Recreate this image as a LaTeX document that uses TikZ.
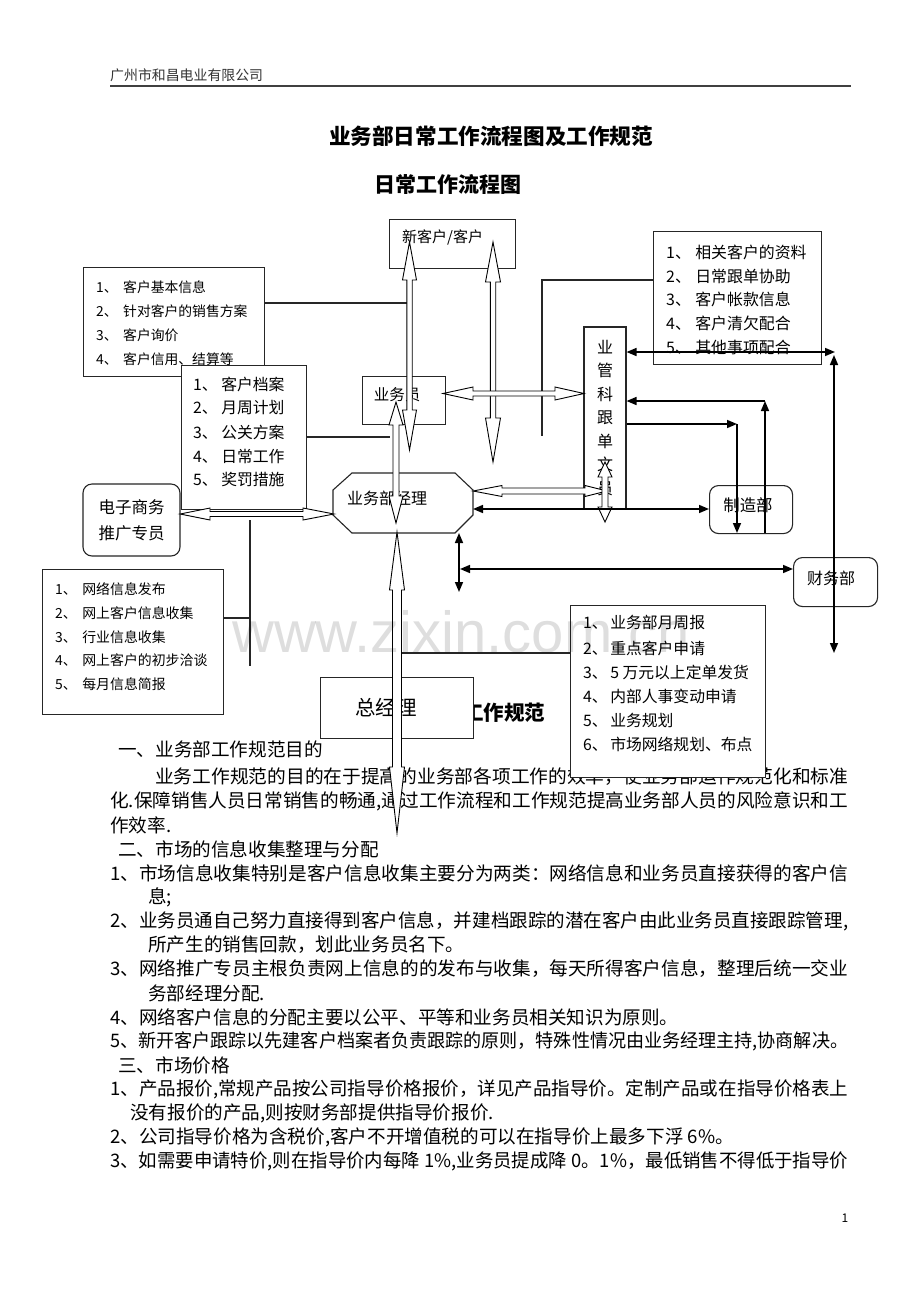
\documentclass[tikz,border=0pt]{standalone}
\usepackage{fontspec}
\setmainfont{Noto Sans CJK SC}
\newfontfamily\wmfont{Liberation Sans}
\usepackage{graphicx}
\usetikzlibrary{arrows.meta,calc}
\newsavebox\lnbox
\newlength\lnw
\newcommand\fsz[2]{\fontsize{#1}{#2}\selectfont}
% justified body line: name, x, y, text
\newcommand\jline[4]{\node[anchor=west,inner sep=0] (#1) at (#2,#3) {\sbox\lnbox{#4}\setlength\lnw{\wd\lnbox}\pgfmathsetmacro\lnfac{(848-#2)/\lnw}\scalebox{\lnfac}[1]{\usebox\lnbox}};}
\newcommand\bline[4]{\node[anchor=west,inner sep=0] (#1) at (#2,#3) {#4};}
\newcommand\litem[4]{\node[anchor=west,inner sep=0] (#1) at (#2,#3) {#4};}
% hollow double arrow: from, to, half shaft, head half width, head length at from, head length at to
\newcommand\harr[6]{\draw[hollow] let \p1=(#1), \p2=(#2), \n1={atan2(\y2-\y1,\x2-\x1)} in
 (\p1) -- ($(\p1)+(\n1:#5pt)+(\n1+90:#4pt)$) -- ($(\p1)+(\n1:#5pt)+(\n1+90:#3pt)$)
 -- ($(\p2)+(\n1+180:#6pt)+(\n1+90:#3pt)$) -- ($(\p2)+(\n1+180:#6pt)+(\n1+90:#4pt)$)
 -- (\p2) -- ($(\p2)+(\n1+180:#6pt)+(\n1-90:#4pt)$) -- ($(\p2)+(\n1+180:#6pt)+(\n1-90:#3pt)$)
 -- ($(\p1)+(\n1:#5pt)+(\n1-90:#3pt)$) -- ($(\p1)+(\n1:#5pt)+(\n1-90:#4pt)$) -- cycle;}
\begin{document}
\begin{tikzpicture}[x=1pt,y=-1pt,
 box/.style={draw=black!85,line width=1.1pt,fill=white,inner sep=0pt,anchor=north west},
 rbox/.style={box,rounded corners=9pt},
 hollow/.style={draw=black,fill=white,line width=0.9pt,line join=miter},
 sarr/.style={line width=1.6pt},
 thin/.style={line width=1.1pt,black!85},
 >={Triangle[length=10pt,width=8pt]}]
\useasboundingbox (0,0) rectangle (920,1302);
\fill[white] (0,0) rectangle (920,1302);

% header
\node[anchor=west,inner sep=0,font=\fsz{13.9}{16},text=black!80] (hdr) at (110,75) {广州市和昌电业有限公司};
\coordinate (rl) at (110,86); \coordinate (rr) at (851,86);
\draw[line width=1.6pt,black!75] (rl) -- (rr);
\node[inner sep=0,font=\fsz{21.6}{24}\bfseries] (title) at (491,136) {业务部日常工作流程图及工作规范};
\node[inner sep=0,font=\fsz{21}{24}\bfseries] (sub) at (447.5,184) {日常工作流程图};

% body text
\begin{scope}[every node/.append style={font=\fsz{18.6}{22}}]
\bline{b1}{118}{749}{一、业务部工作规范目的}
\jline{b2}{155}{777}{业务工作规范的目的在于提高的业务部各项工作的效率，使业务部运作规范化和标准}
\jline{b3}{110}{801}{化.保障销售人员日常销售的畅通,通过工作流程和工作规范提高业务部人员的风险意识和工}
\bline{b4}{110}{825}{作效率.}
\bline{b5}{118}{849}{二、市场的信息收集整理与分配}
\jline{b6}{110}{873}{1、市场信息收集特别是客户信息收集主要分为两类：网络信息和业务员直接获得的客户信}
\bline{b7}{148}{897}{息;}
\jline{b8}{110}{921}{2、业务员通自己努力直接得到客户信息，并建档跟踪的潜在客户由此业务员直接跟踪管理,}
\bline{b9}{148}{945}{所产生的销售回款，划此业务员名下。}
\jline{b10}{110}{969}{3、网络推广专员主根负责网上信息的的发布与收集，每天所得客户信息，整理后统一交业}
\bline{b11}{148}{993}{务部经理分配.}
\bline{b12}{110}{1017}{4、网络客户信息的分配主要以公平、平等和业务员相关知识为原则。}
\jline{b13}{110}{1041}{5、新开客户跟踪以先建客户档案者负责跟踪的原则，特殊性情况由业务经理主持,协商解决。}
\bline{b14}{118}{1065}{三、市场价格}
\jline{b15}{110}{1089}{1、产品报价,常规产品按公司指导价格报价，详见产品指导价。定制产品或在指导价格表上}
\bline{b16}{130}{1113}{没有报价的产品,则按财务部提供指导价报价.}
\bline{b17}{110}{1137}{2、公司指导价格为含税价,客户不开增值税的可以在指导价上最多下浮 6\%。}
\jline{b18}{110}{1161}{3、如需要申请特价,则在指导价内每降 1\%,业务员提成降 0。1\%，最低销售不得低于指导价}
\end{scope}
\node[inner sep=0,font=\fsz{12}{14}] (pg) at (845,1218) {1};
\node[anchor=west,inner sep=0,font=\fsz{20.5}{24}\bfseries] (gzgf) at (463,713) {工作规范};

% box A
\node[box,minimum width=181,minimum height=109] (ba) at (83,267) {};
\begin{scope}[every node/.append style={font=\fsz{13.8}{16}}]
\litem{a1}{96}{287}{1、\hspace{5.6pt}客户基本信息}
\litem{a2}{96}{311}{2、\hspace{5.6pt}针对客户的销售方案}
\litem{a3}{96}{335}{3、\hspace{5.6pt}客户询价}
\litem{a4}{96}{359}{4、\hspace{5.6pt}客户信用、结算等}
\end{scope}
% box B
\node[box,minimum width=125,minimum height=144] (bb) at (181,365) {};
\begin{scope}[every node/.append style={font=\fsz{15.8}{18}}]
\litem{b1i}{193}{384}{1、\hspace{3.5pt}客户档案}
\litem{b2i}{193}{408}{2、\hspace{3.5pt}月周计划}
\litem{b3i}{193}{432}{3、\hspace{3.5pt}公关方案}
\litem{b4i}{193}{456}{4、\hspace{3.5pt}日常工作}
\litem{b5i}{193}{479}{5、\hspace{3.5pt}奖罚措施}
\end{scope}
% new customer
\node[box,minimum width=126,minimum height=49] (xkh) at (389,219) {};
\node[anchor=west,inner sep=0,font=\fsz{15}{18}] (xkht) at (402,237) {新客户/客户};
% box C
\node[box,minimum width=168,minimum height=133] (bc) at (653,231) {};
\begin{scope}[every node/.append style={font=\fsz{15.9}{18}}]
\litem{c1}{666}{252}{1、\hspace{4.4pt}相关客户的资料}
\litem{c2}{666}{276}{2、\hspace{4.4pt}日常跟单协助}
\litem{c3}{666}{299}{3、\hspace{4.4pt}客户帐款信息}
\litem{c4}{666}{323}{4、\hspace{4.4pt}客户清欠配合}
\litem{c5}{666}{347}{5、\hspace{4.4pt}其他事项配合}
\end{scope}
% vertical box
\node[box,anchor=center,minimum width=42,minimum height=182,align=center,font=\fsz{16}{23.5}] (yg) at (605,418) {业\\管\\科\\跟\\单\\文\\员};
% 制造部, 财务部
\node[rbox,minimum width=83,minimum height=48] (zz) at (709,485) {};
\node[inner sep=0,font=\fsz{16.4}{18}] (zzt) at (748,505) {制造部};
\node[rbox,minimum width=84,minimum height=49] (cw) at (793,557) {};
\node[inner sep=0,font=\fsz{16}{18}] (cwt) at (831,578) {财务部};
% e-commerce
\node[rbox,anchor=center,minimum width=97,minimum height=72,align=center,font=\fsz{16.5}{26}] (dz) at (131.5,520) {电子商务\\推广专员};
% salesman
\node[box,minimum width=83,minimum height=48] (yy) at (362,376) {};
\node[inner sep=0,font=\fsz{15.5}{18}] (yyt) at (397,395) {业务员};
% manager octagon
\coordinate (o1) at (352,473); \coordinate (o2) at (455,473); \coordinate (o3) at (473,490); \coordinate (o4) at (473,515);
\coordinate (o5) at (455,533); \coordinate (o6) at (352,533); \coordinate (o7) at (333,515); \coordinate (o8) at (333,490);
\draw[box] (o1) -- (o2) -- (o3) -- (o4) -- (o5) -- (o6) -- (o7) -- (o8) -- cycle;
\node[anchor=west,inner sep=0,font=\fsz{16}{18}] (jl) at (347,498) {业务部经理};
% general manager
\node[box,minimum width=153,minimum height=61] (zj) at (320,677) {};
\node[inner sep=0,font=\fsz{20.5}{24}] (zjt) at (386,708) {总经理};
% box D
\node[box,minimum width=195,minimum height=172] (bd) at (570,605) {};
\begin{scope}[every node/.append style={font=\fsz{15.8}{18}}]
\litem{d1}{583}{623}{1、\hspace{2.5pt}业务部月周报}
\litem{d2}{583}{648}{2、\hspace{2.5pt}重点客户申请}
\litem{d3}{583}{672}{3、\hspace{2.5pt}5 万元以上定单发货}
\litem{d4}{583}{696}{4、\hspace{2.5pt}内部人事变动申请}
\litem{d5}{583}{720}{5、\hspace{2.5pt}业务规划}
\litem{d6}{583}{744}{6、\hspace{2.5pt}市场网络规划、布点}
\end{scope}
% box E
\node[box,minimum width=181,minimum height=145] (be) at (42,569) {};
\begin{scope}[every node/.append style={font=\fsz{13.9}{16}}]
\litem{e1}{55}{589}{1、\hspace{5.5pt}网络信息发布}
\litem{e2}{55}{613}{2、\hspace{5.5pt}网上客户信息收集}
\litem{e3}{55}{637}{3、\hspace{5.5pt}行业信息收集}
\litem{e4}{55}{660}{4、\hspace{5.5pt}网上客户的初步洽谈}
\litem{e5}{55}{684}{5、\hspace{5.5pt}每月信息简报}
\end{scope}

% thin connector lines
\coordinate (l1e) at (407,303);
\draw[thin] (ba.east |- 0,303) -- (l1e);
\coordinate (l2e) at (390,437);
\draw[thin] (bb.east |- 0,437) -- (l2e);
\coordinate (l3c) at (542,280); \coordinate (l3e) at (542,436);
\draw[thin] (bc.west |- 0,280) -- (l3c) -- (l3e);
\coordinate (l4e) at (402,653);
\draw[thin] (bd.west |- 0,653) -- (l4e);
\coordinate (l5c) at (250,618); \coordinate (l5t) at (250,520); \coordinate (l5b) at (250,666);
\draw[thin] (be.east |- 0,618) -- (l5c);
\draw[thin] (l5t) -- (l5b);

% hollow arrows
\coordinate (h1a) at (409.5,242); \coordinate (h1b) at (409.5,450);
\coordinate (h2a) at (493,242); \coordinate (h2b) at (493,462);
\coordinate (h3a) at (396,402); \coordinate (h3b) at (396,523);
\coordinate (h4a) at (397,532); \coordinate (h4b) at (397,833);
\coordinate (h5a) at (443,393.5); \coordinate (h5b) at (584,393.5);
\coordinate (h6a) at (473,491); \coordinate (h6b) at (607,491);
\coordinate (h7a) at (605,462); \coordinate (h7b) at (605,522);
\coordinate (h8a) at (180,514); \coordinate (h8b) at (334,514);
\harr{h1a}{h1b}{2.7}{7}{38}{40}
\harr{h2a}{h2b}{2.7}{7.5}{40}{44}
\harr{h5a}{h5b}{2.5}{6.5}{30}{29}
\harr{h3a}{h3b}{3}{7}{23}{27}
\harr{h4a}{h4b}{4.5}{7.5}{58}{66}
\harr{h6a}{h6b}{3}{5.5}{29}{22}
\harr{h7a}{h7b}{3}{7}{15}{15}
\harr{h8a}{h8b}{2.5}{6}{30}{31}

% solid arrows
\coordinate (s1r) at (835,352); \coordinate (v1t) at (834,355); \coordinate (v1b) at (834,653);
\draw[sarr,<->] (yg.east |- 0,352) -- (s1r);
\draw[sarr,<->] (v1t) -- (v1b);
\coordinate (s2c) at (765,401); \coordinate (s2b) at (765,533);
\draw[sarr,->] (s2b) -- (s2c);
\draw[sarr,->] (s2c) -- (yg.east |- 0,401);
\coordinate (s3c) at (737,424); \coordinate (s3b) at (737,533);
\draw[sarr,->] (yg.east |- 0,424) -- (s3c);
\draw[sarr,->] (s3c) -- (s3b);
\draw[sarr,<->] (o3 |- 0,509) -- (zz.west |- 0,509);
\coordinate (s5t) at (459,533); \coordinate (s5b) at (459,592);
\draw[sarr,<->] (s5t) -- (s5b);
\coordinate (s6l) at (460,569);
\draw[sarr,<->] (s6l) -- (cw.west |- 0,569);

% watermark
\node[anchor=base west,inner sep=0,font=\wmfont\fontsize{58}{60}\selectfont,text=black,opacity=0.13] (wm) at (232,652) {www.zixin.com.cn};
\end{tikzpicture}
\end{document}
